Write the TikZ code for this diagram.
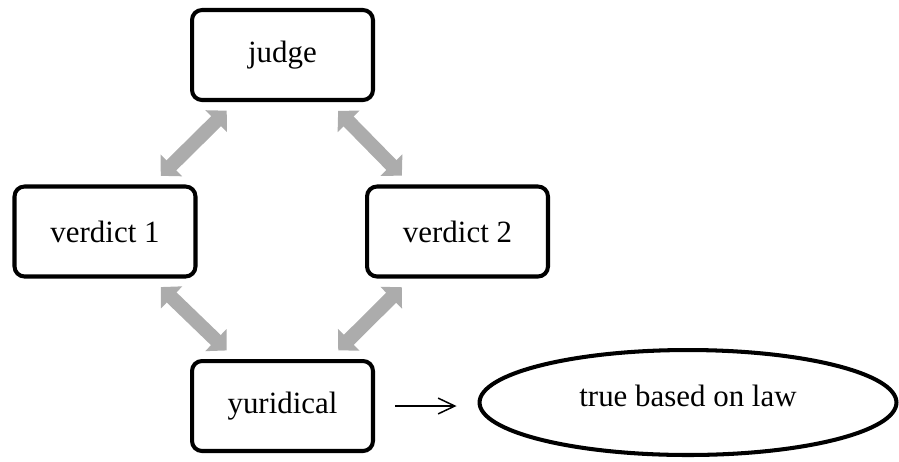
\documentclass[tikz,border=0pt]{standalone}
\usepackage{fontspec}
\setmainfont{Liberation Serif}
\usepackage{tikz}
\usetikzlibrary{shapes.geometric,arrows.meta}
\definecolor{pfeilgrau}{RGB}{172,172,172}

\begin{document}
\begin{tikzpicture}[x=0.02cm,y=-0.02cm,font=\fontsize{17.6}{21}\selectfont,
		kasten/.style={draw,line width=2.3pt,rounded corners=0.2cm,minimum width=3.62cm,minimum height=1.8cm,inner sep=0pt},
		doppel/.style={pfeilgrau,line width=8pt,{Triangle[length=8.5pt,width=17pt]}-{Triangle[length=8.5pt,width=17pt]},shorten <=7pt,shorten >=7pt}]
			\useasboundingbox (0,0) rectangle (899,461);
			\node[kasten] (judge) at (282.5,55) {judge};
			\node[kasten] (v1) at (105,231.5) {verdict 1};
			\node[kasten] (v2) at (457.5,231.5) {verdict 2};
			\node[kasten] (yur) at (282.5,406) {yuridical};
			\node[draw,ellipse,line width=2.3pt,minimum width=8.34cm,minimum height=2.1cm,text depth=0.28cm] (law) at (688,402.5) {true based on law};
			% graue Doppelpfeile
			\draw[doppel] (judge.225) -- (v1.45);
			\draw[doppel] (judge.315) -- (v2.135);
			\draw[doppel] (v1.315) -- (yur.135);
			\draw[doppel] (v2.225) -- (yur.45);
			\draw[line width=0.85pt,-{Straight Barb[length=9.5pt,width=9pt]},shorten <=0.4cm,shorten >=0.42cm]
			(yur.east) -- (yur.east -| law.west);
		\end{tikzpicture}
\end{document}
